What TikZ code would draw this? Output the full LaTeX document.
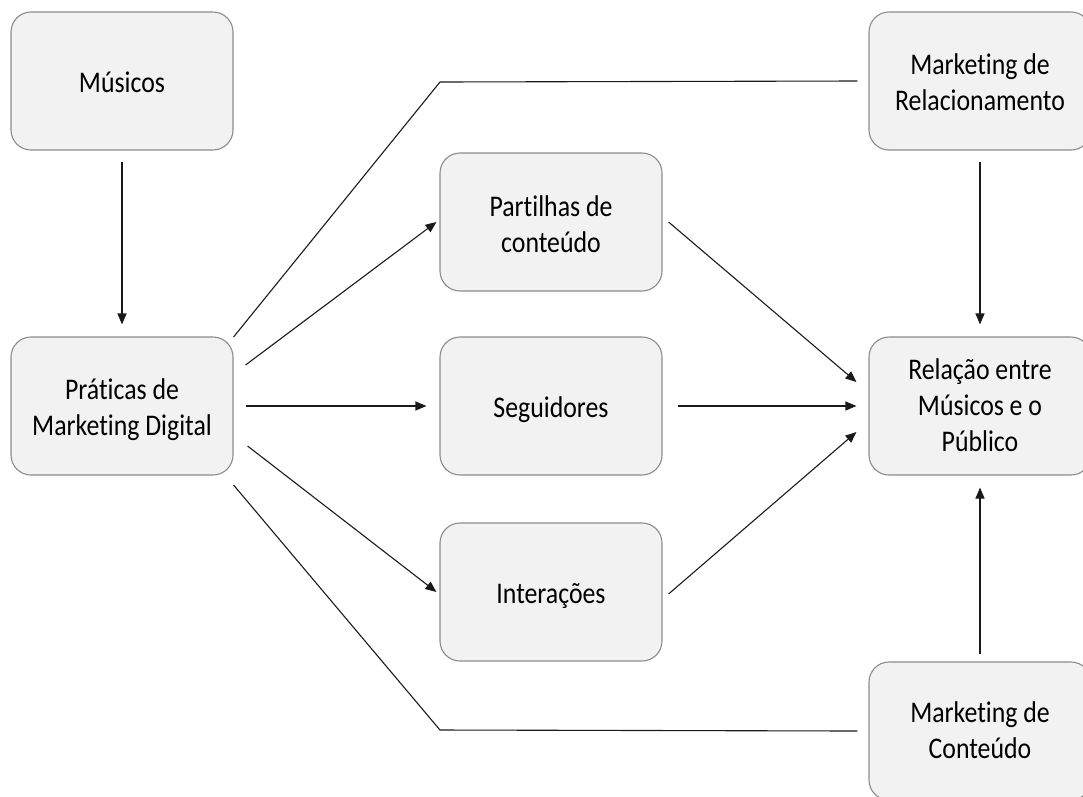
\documentclass[tikz,border=0pt]{standalone}
\usepackage{fontspec}
\setmainfont{Carlito}[Ligatures=NoCommon, FakeStretch=0.86]
\usetikzlibrary{arrows.meta,calc}
\definecolor{boxfill}{HTML}{F2F2F2}
\definecolor{boxdraw}{HTML}{8C8C8C}
\definecolor{linecol}{HTML}{1A1A1A}
\newcommand\boxtxt[2][4.5pt]{\raisebox{-#1}[\height][\depth]{\begin{tabular}{@{}c@{}}#2\end{tabular}}}
\tikzset{
  stepbox/.style={draw=boxdraw, line width=1.1pt, fill=boxfill, rounded corners=20pt,
    minimum width=222pt, minimum height=138pt, inner sep=0pt,
    font=\fontsize{30}{36}\selectfont},
  conn/.style={draw=linecol, line width=1.1pt},
  arr/.style={conn, -{Triangle[length=11pt,width=9pt]}}
}
\begin{document}
\begin{tikzpicture}[x=1pt,y=-1pt]
\useasboundingbox (0,0) rectangle (1083,796);
\begin{scope}
\clip (0,0) rectangle (1083,796);
\node[stepbox] (mus) at (122,81) {\boxtxt{Músicos}};
\node[stepbox] (pra) at (122,406) {\boxtxt{Práticas de\\Marketing Digital}};
\node[stepbox] (par) at (551,222) {\boxtxt[5.5pt]{Partilhas de\\conteúdo}};
\node[stepbox] (seg) at (551,406) {\boxtxt{Seguidores}};
\node[stepbox] (int) at (551,592) {\boxtxt{Interações}};
\node[stepbox] (mrel) at (980,81) {\boxtxt{Marketing de\\Relacionamento}};
\node[stepbox] (rel) at (980,406) {\boxtxt[2pt]{Relação entre\\Músicos e o\\Público}};
\node[stepbox] (mcon) at (980,731) {\boxtxt[2pt]{Marketing de\\Conteúdo}};
\end{scope}
% arrows
\draw[arr, shorten <=11pt, shorten >=12pt] (mus.south) -- (pra.north);
\draw[arr, shorten <=11pt, shorten >=12pt] (mrel.south) -- (rel.north);
\draw[arr, shorten <=7pt, shorten >=12pt] (mcon.north) -- (rel.south);
\draw[arr] ([shift={(12pt,41pt)}]pra.east) -- ([xshift=-3pt]par.west);
\draw[arr] ([xshift=12pt]pra.east) -- ([xshift=-13pt]seg.west);
\draw[arr] ([shift={(14pt,-40pt)}]pra.east) -- ([xshift=-3pt]int.west);
\draw[arr] ([xshift=6pt]par.east) -- ([shift={(-12pt,24pt)}]rel.west);
\draw[arr] ([xshift=15pt]seg.east) -- ([xshift=-12pt]rel.west);
\draw[arr] ([shift={(6pt,-2pt)}]int.east) -- ([shift={(-12pt,-26pt)}]rel.west);
% polylines
\coordinate (tk) at (440,82);
\coordinate (bk) at (440,730);
\draw[conn] ([yshift=69pt]pra.east) -- (tk) -- ([xshift=-11pt]mrel.west);
\draw[conn] ([yshift=-79pt]pra.east) -- (bk) -- ([xshift=-11pt]mcon.west);
\end{tikzpicture}
\end{document}
